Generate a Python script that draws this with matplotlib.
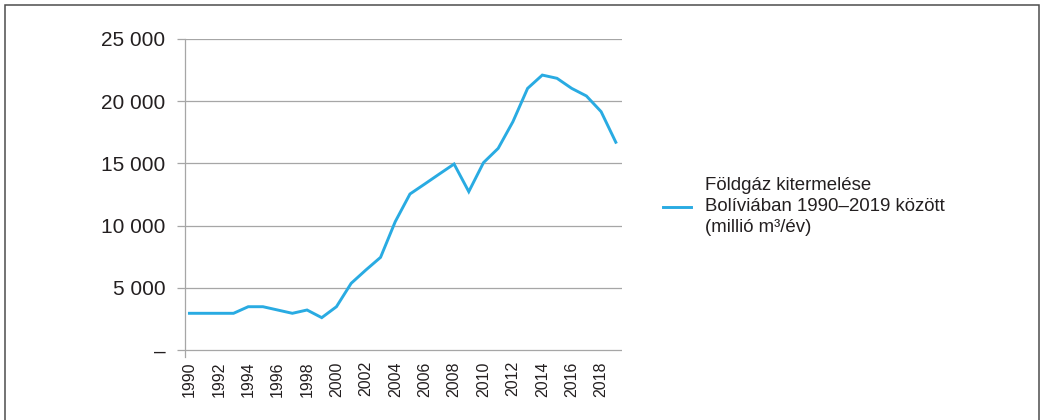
import matplotlib
matplotlib.use("Agg")
import matplotlib.pyplot as plt
from matplotlib.patches import Rectangle

plt.rcParams['font.family'] = ['Liberation Sans', 'DejaVu Sans']

years = list(range(1990, 2020))
production = [2950, 2950, 2950, 2950, 3480, 3480, 3215, 2950, 3215, 2600,
              3480, 5360, 6430, 7450, 10320, 12540, 13340, 14150, 14950, 12730,
              15060, 16210, 18350, 21030, 22100, 21840, 21030, 20420, 19160, 16700]
y_ticks = [0, 5000, 10000, 15000, 20000, 25000]
y_tick_labels = ['–', '5 000', '10 000', '15 000', '20 000', '25 000']
x_ticks = list(range(1990, 2019, 2))
legend_label = 'Földgáz kitermelése\nBolíviában 1990–2019 között\n(millió m³/év)'

W, H = 1043, 420
fig = plt.figure(figsize=(W / 100, H / 100), dpi=100)
ax_left, ax_right = 185 / W, 621.7 / W
ax_bottom_px, ax_top_px = 357, 39
ax = fig.add_axes([ax_left, 1 - ax_bottom_px / H, ax_right - ax_left, (ax_bottom_px - ax_top_px) / H])

text_color = '#231F20'
grid_color = '#A6A6A6'
line_color = '#29ABE2'

ax.plot(years, production, color=line_color, lw=2.1, solid_joinstyle='miter',
        label=legend_label, zorder=3)

y_per_px = 25000 / (350 - 39)
ax.set_ylim(-7 * y_per_px, 25000)
ax.set_xlim(1989.7, 2019.4)

for v in y_ticks:
    ax.axhline(v, color=grid_color, lw=0.9, zorder=1)

ax.set_yticks(y_ticks)
ax.set_yticklabels(y_tick_labels)
ax.set_xticks(x_ticks)
ax.set_xticklabels([str(x) for x in x_ticks], rotation=90)

ax.tick_params(axis='y', length=6, width=0.9, color=grid_color, pad=8,
               labelsize=15, labelcolor=text_color)
ax.tick_params(axis='x', length=0, pad=3, labelsize=11.5, labelcolor=text_color)

for s in ['top', 'right', 'bottom']:
    ax.spines[s].set_visible(False)
ax.spines['left'].set_color(grid_color)
ax.spines['left'].set_linewidth(0.9)

leg = fig.legend(loc='center left', bbox_to_anchor=(662.7 / W, 1 - 206.7 / H),
                 frameon=False, borderpad=0, borderaxespad=0, handlelength=1.5,
                 handletextpad=0.75, prop={'size': 13.4}, labelcolor=text_color,
                 labelspacing=0)
for t in leg.get_texts():
    t.set_linespacing(1.3)

rect = Rectangle((5 / W, -0.1), (1039 - 5) / W, 1 - 5 / H + 0.1,
                 transform=fig.transFigure, fill=False, edgecolor='#4D4D4D',
                 lw=1.1, clip_on=False)
fig.add_artist(rect)

fig.savefig('out.png', dpi=100)
